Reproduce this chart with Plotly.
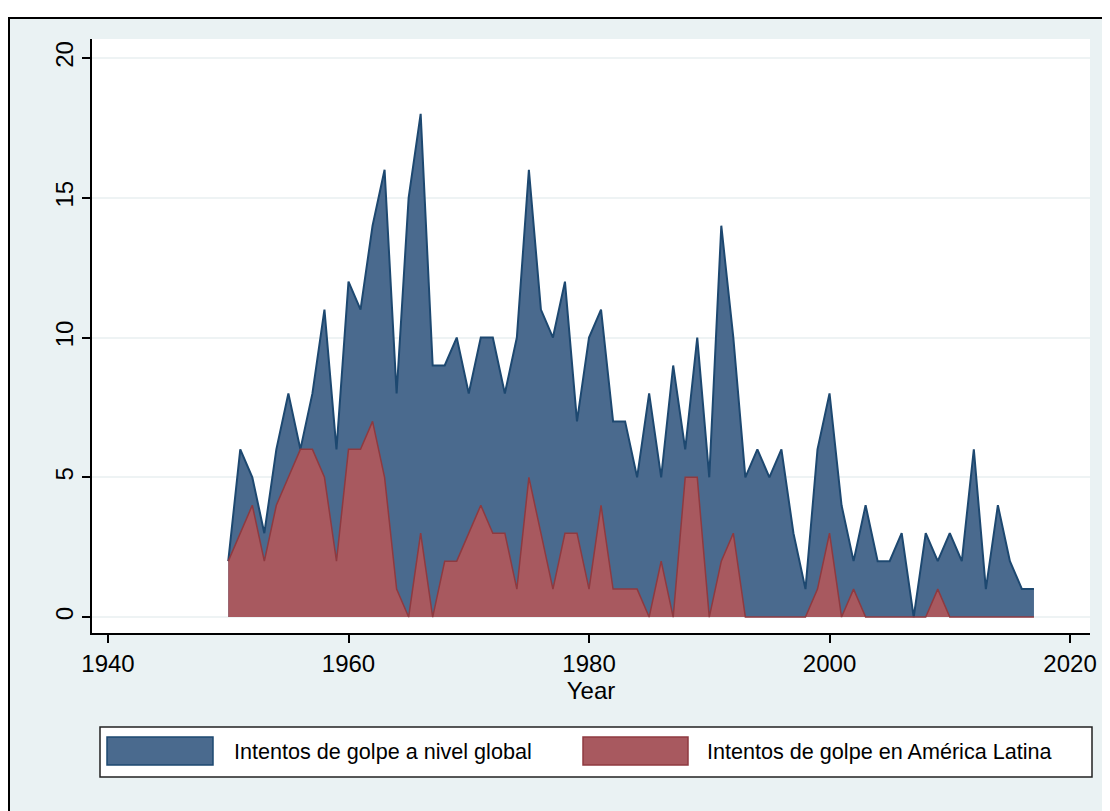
import plotly.graph_objects as go

years = list(range(1950, 2018))
global_coups = [2, 6, 5, 3, 6, 8, 6, 8, 11, 6,
                12, 11, 14, 16, 8, 15, 18, 9, 9, 10,
                8, 10, 10, 8, 10, 16, 11, 10, 12, 7,
                10, 11, 7, 7, 5, 8, 5, 9, 6, 10,
                5, 14, 10, 5, 6, 5, 6, 3, 1, 6,
                8, 4, 2, 4, 2, 2, 3, 0, 3, 2,
                3, 2, 6, 1, 4, 2, 1, 1]
latam_coups = [2, 3, 4, 2, 4, 5, 6, 6, 5, 2,
               6, 6, 7, 5, 1, 0, 3, 0, 2, 2,
               3, 4, 3, 3, 1, 5, 3, 1, 3, 3,
               1, 4, 1, 1, 1, 0, 2, 0, 5, 5,
               0, 2, 3, 0, 0, 0, 0, 0, 0, 1,
               3, 0, 1, 0, 0, 0, 0, 0, 0, 1,
               0, 0, 0, 0, 0, 0, 0, 0]
series_names = ["Intentos de golpe a nivel global", "Intentos de golpe en América Latina"]
x_ticks = [1940, 1960, 1980, 2000, 2020]
y_ticks = [0, 5, 10, 15, 20]

BLUE_FILL = "#4A6A8E"
BLUE_LINE = "#1D4870"
RED_FILL = "#A8595F"
RED_LINE = "#8E3A40"
BG = "#EAF2F3"
FONT = "Liberation Sans, Arial, sans-serif"

OFF = 8  # page body margin
W, H = 1110 - OFF, 811 - OFF
L, R, T, B = 92 - OFF, 20, 39 - OFF, 178
PW, PH = W - L - R, H - T - B

def px(x):
    return (x - OFF - L) / PW

def py(y):
    return (H - B - (y - OFF)) / PH

fig = go.Figure()
fig.add_trace(go.Scatter(x=years, y=global_coups, mode="lines", fill="tozeroy",
                         fillcolor=BLUE_FILL, line=dict(color=BLUE_LINE, width=2),
                         name=series_names[0], showlegend=False))
fig.add_trace(go.Scatter(x=years, y=latam_coups, mode="lines", fill="tozeroy",
                         fillcolor=RED_FILL, line=dict(color=RED_LINE, width=1.5),
                         name=series_names[1], showlegend=False))

shapes = []
annotations = []
# white strip above the outer graph frame
shapes.append(dict(type="rect", xref="paper", yref="paper", x0=px(0), x1=px(1120),
                   y0=py(18), y1=py(0), fillcolor="white", line=dict(width=0), layer="below"))
# frame lines
shapes.append(dict(type="line", xref="paper", yref="paper", x0=px(8), x1=px(1120),
                   y0=py(18), y1=py(18), line=dict(color="black", width=2)))
shapes.append(dict(type="line", xref="paper", yref="paper", x0=px(9), x1=px(9),
                   y0=py(18), y1=py(820), line=dict(color="black", width=2)))

# legend box
shapes.append(dict(type="rect", xref="paper", yref="paper", x0=px(100), x1=px(1092),
                   y0=py(777), y1=py(727), fillcolor="white",
                   line=dict(color="#222222", width=1.5)))
leg_items = [(107, 213, 232, BLUE_FILL, BLUE_LINE), (583, 688, 705, RED_FILL, RED_LINE)]
for name, (x0, x1, tx, fc, lc) in zip(series_names, leg_items):
    shapes.append(dict(type="rect", xref="paper", yref="paper", x0=px(x0), x1=px(x1),
                       y0=py(765), y1=py(737), fillcolor=fc, line=dict(color=lc, width=1.5)))
    annotations.append(dict(xref="paper", yref="paper", x=px(tx), y=py(751), text=name,
                            showarrow=False, xanchor="left", yanchor="middle",
                            font=dict(family=FONT, size=21.6, color="black")))

fig.update_layout(
    width=W, height=H,
    margin=dict(l=L, r=R, t=T, b=B, pad=0),
    paper_bgcolor=BG, plot_bgcolor="white",
    shapes=shapes, annotations=annotations,
    font=dict(family=FONT, size=24, color="black"),
    xaxis=dict(range=[1938.67, 2021.66], tickvals=x_ticks, ticks="outside", ticklen=8,
               tickwidth=1.5, tickcolor="black", showline=True, linecolor="black",
               linewidth=1.5, showgrid=False, zeroline=False,
               title=dict(text="Year", standoff=2, font=dict(size=24)),
               tickfont=dict(size=24)),
    yaxis=dict(range=[-0.57, 20.68], tickvals=y_ticks, ticks="outside", ticklen=8,
               tickwidth=1.5, tickcolor="black", showline=True, linecolor="black",
               linewidth=1.5, showgrid=True, gridcolor="#EEF3F4", gridwidth=2,
               zeroline=False, tickangle=-90, tickfont=dict(size=24)),
)

fig.write_html("out.html")
